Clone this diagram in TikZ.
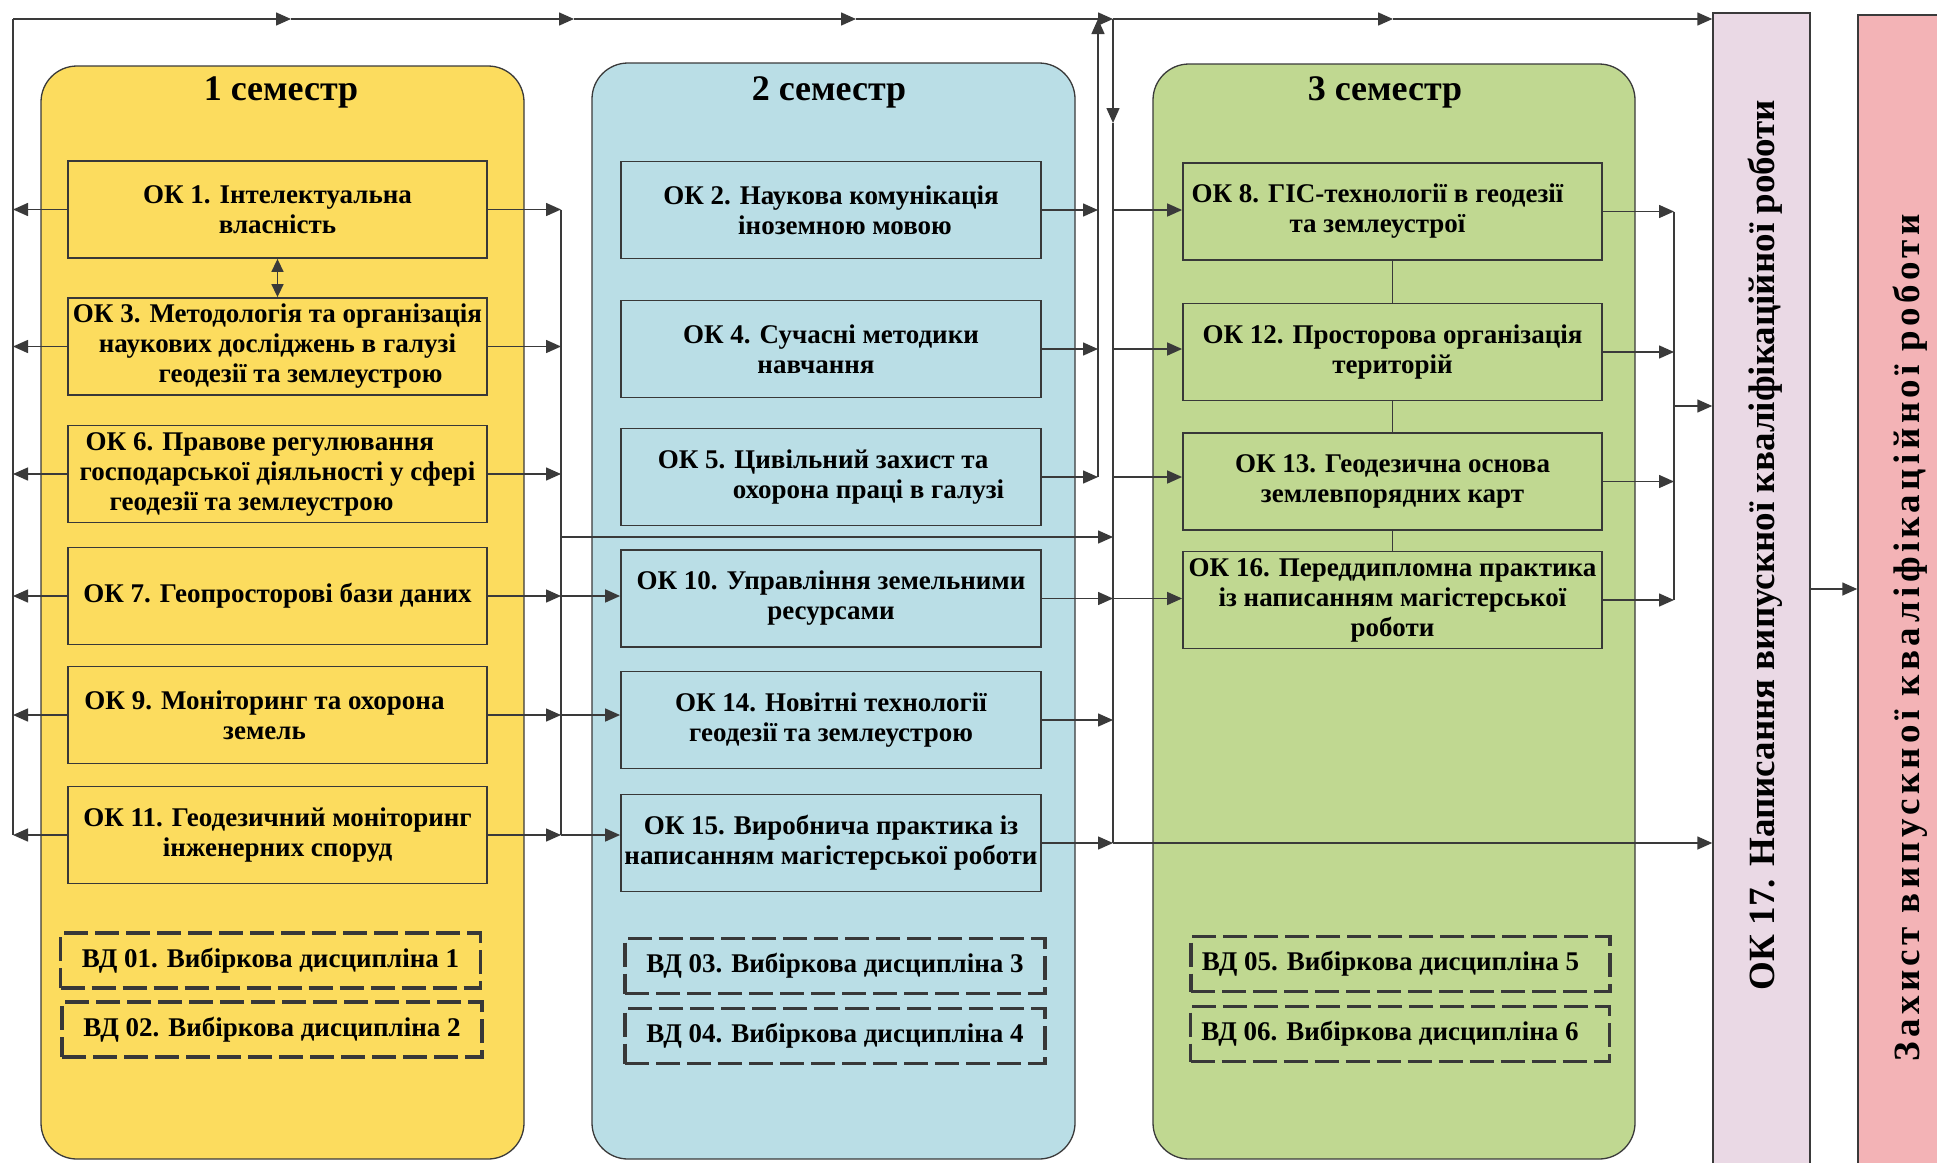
\documentclass[tikz,border=0pt]{standalone}
\usepackage{fontspec}
\setmainfont{Liberation Serif}
\usetikzlibrary{arrows.meta}

\definecolor{semyellow}{RGB}{252,220,94}
\definecolor{semblue}{RGB}{186,222,230}
\definecolor{semgreen}{RGB}{192,216,145}
\definecolor{writepink}{RGB}{234,217,229}
\definecolor{defendred}{RGB}{243,179,182}
\definecolor{linegray}{RGB}{58,58,58}
\definecolor{boxgray}{RGB}{56,56,56}

\newcommand{\okfont}{\fontsize{27}{30}\selectfont\bfseries}
\newcommand{\semfont}{\fontsize{36}{40}\selectfont\bfseries}
\newcommand{\finfont}{\fontsize{37}{40}\selectfont\bfseries}

\tikzset{
  semester/.style={draw=linegray, line width=1.3pt, rounded corners=36pt},
  course/.style={draw=boxgray, line width=1.8pt, minimum width=419pt, minimum height=97pt, inner sep=0pt, align=center, font=\okfont},
  elective/.style={draw=boxgray, line width=3.2pt, dash pattern=on 24pt off 7pt, minimum width=420pt, minimum height=55pt, inner sep=0pt, font=\okfont},
  finalbox/.style={draw=linegray, line width=1.5pt, minimum width=97pt, minimum height=1170pt, inner sep=0pt},
  conn/.style={draw=linegray, line width=1.5pt},
  arr/.style={conn, -{Triangle[length=15pt, width=13pt]}},
}

\begin{document}
\begin{tikzpicture}[x=1pt, y=-1pt]
        \useasboundingbox (0,0) rectangle (1937,1162);

        \draw[semester, fill=semyellow] (41,66) rectangle (524,1159);
        \draw[semester, fill=semblue] (592,63) rectangle (1075,1159);
        \draw[semester, fill=semgreen] (1153,64) rectangle (1635,1159);
        \node[font=\semfont, anchor=base] (s1) at (281,100) {1 семестр};
        \node[font=\semfont, anchor=base] (s2) at (829,100) {2 семестр};
        \node[font=\semfont, anchor=base] (s3) at (1385,100) {3 семестр};

        \node[course] (k1) at (277.5,209.5) {ОК 1. Інтелектуальна\\власність};
        \node[course] (k3) at (277.5,346.5) {ОК 3. Методологія та організація\\наукових досліджень в галузі\\\hspace*{46pt}геодезії та землеустрою};
        \node[course, align=left] (k6) at (277.5,474) {\hspace*{6pt}ОК 6. Правове регулювання\\господарської діяльності у сфері\\\hspace*{30pt}геодезії та землеустрою};
        \node[course] (k7) at (277.5,596) {ОК 7. Геопросторові бази даних};
        \node[course] (k9) at (277.5,715) {ОК 9. Моніторинг та охорона\hspace*{26pt}\\земель\hspace*{26pt}};
        \node[course] (k11) at (277.5,835) {ОК 11. Геодезичний моніторинг\\інженерних споруд};
        \node[elective] (v1) at (270.5,960.5) {ВД 01. Вибіркова дисципліна 1};
        \node[elective] (v2) at (272,1029.5) {ВД 02. Вибіркова дисципліна 2};

        \node[course, minimum width=420pt] (k2) at (831,210) {ОК 2. Наукова комунікація\\\hspace*{28pt}іноземною мовою};
        \node[course, minimum width=420pt] (k4) at (831,349) {ОК 4. Сучасні методики\\навчання\hspace*{30pt}};
        \node[course, minimum width=420pt, align=left] (k5) at (831,477) {ОК 5. Цивільний захист та\\\hspace*{75pt}охорона праці в галузі};
        \node[course, minimum width=420pt] (k10) at (831,598.5) {ОК 10. Управління земельними\\ресурсами};
        \node[course, minimum width=420pt] (k14) at (831,720) {ОК 14. Новітні технології\\геодезії та землеустрою};
        \node[course, minimum width=420pt] (k15) at (831,843) {ОК 15. Виробнича практика із\\написанням магістерської роботи};
        \node[elective] (v3) at (835,966) {ВД 03. Вибіркова дисципліна 3};
        \node[elective] (v4) at (835,1036) {ВД 04. Вибіркова дисципліна 4};

        \node[course] (k8) at (1392.5,211.5) {ОК 8. ГІС-технології в геодезії\hspace*{30pt}\\та землеустрої\hspace*{30pt}};
        \node[course] (k12) at (1392.5,352) {ОК 12. Просторова організація\\територій};
        \node[course] (k13) at (1392.5,481.5) {ОК 13. Геодезична основа\\землевпорядних карт};
        \node[course] (k16) at (1392.5,600) {ОК 16. Переддипломна практика\\із написанням магістерської\\роботи};
        \node[elective, minimum width=419pt] (v5) at (1400.5,964) {ВД 05. Вибіркова дисципліна 5\hspace*{20pt}};
        \node[elective, minimum width=419pt] (v6) at (1400,1034) {ВД 06. Вибіркова дисципліна 6\hspace*{20pt}};

        \node[finalbox, fill=writepink] (k17) at (1761.5,598) {};
        \node[rotate=90, font=\finfont] (k17t) at (1765,545) {ОК 17. Написання випускної кваліфікаційної роботи};
        \node[finalbox, fill=defendred] (zh) at (1906.5,600) {};
        \node[rotate=90, font=\finfont\addfontfeatures{LetterSpace=12}] (zht) at (1910,638) {Захист випускної кваліфікаційної роботи};

        \coordinate (lt) at (13,19);
        \coordinate (t1) at (291,19);
        \coordinate (t2) at (574,19);
        \coordinate (t3) at (856,19);
        \coordinate (b2) at (1098,19);
        \coordinate (b3) at (1113,19);
        \coordinate (b3m) at (1113,123);
        \coordinate (t5) at (1393,19);
        \coordinate (b1) at (561,537);
        \coordinate (b4) at (1674,406);
        \coordinate (jz) at (1834,589);

        \draw[arr] (lt) -- (t1);
        \draw[arr] (t1) -- (t2);
        \draw[arr] (t2) -- (t3);
        \draw[arr] (t3) -- (b3);
        \draw[arr] (b3) -- (t5);
        \draw[arr] (t5) -- (t5 -| k17.west);

        \draw[conn] (lt) -- (k11.west -| lt);
        \foreach \k in {k1,k3,k6,k7,k9,k11}
          \draw[arr] (\k.west) -- (\k.west -| lt);

        \draw[conn] (k1.east -| b1) -- (k11.east -| b1);
        \foreach \k in {k1,k3,k6,k7,k9,k11}
          \draw[arr] (\k.east) -- (\k.east -| b1);
        \draw[arr] (k7.east -| b1) -- (k7.east -| k10.west);
        \draw[arr] (k9.east -| b1) -- (k9.east -| k14.west);
        \draw[arr] (k11.east -| b1) -- (k11.east -| k15.west);
        \draw[arr] (b1) -- (b1 -| b3);

        \draw[arr] (k5.east -| b2) -- (b2);
        \foreach \k in {k2,k4,k5}
          \draw[arr] (\k.east) -- (\k.east -| b2);

        \draw[arr] (b3) -- (b3m);
        \draw[conn] (b3m) -- (k15.east -| b3);
        \foreach \k in {k10,k14,k15}
          \draw[arr] (\k.east) -- (\k.east -| b3);
        \draw[arr] (k2.east -| b3) -- (k2.east -| k8.west);
        \draw[arr] (k4.east -| b3) -- (k4.east -| k12.west);
        \draw[arr] (k5.east -| b3) -- (k5.east -| k13.west);
        \draw[arr] (k10.east -| b3) -- (k10.east -| k16.west);
        \draw[arr] (k15.east -| b3) -- (k15.east -| k17.west);

        \draw[conn] (k8.south) -- (k12.north);
        \draw[conn] (k12.south) -- (k13.north);
        \draw[conn] (k13.south) -- (k16.north);
        \draw[conn, {Triangle[length=13pt, width=12pt]}-{Triangle[length=13pt, width=12pt]}] (k1.south) -- (k3.north);

        \draw[conn] (k8.east -| b4) -- (k16.east -| b4);
        \foreach \k in {k8,k12,k13,k16}
          \draw[arr] (\k.east) -- (\k.east -| b4);
        \draw[arr] (b4) -- (b4 -| k17.west);
        \draw[arr] (k17.east |- jz) -- (jz -| zh.west);

    \end{tikzpicture}
\end{document}
